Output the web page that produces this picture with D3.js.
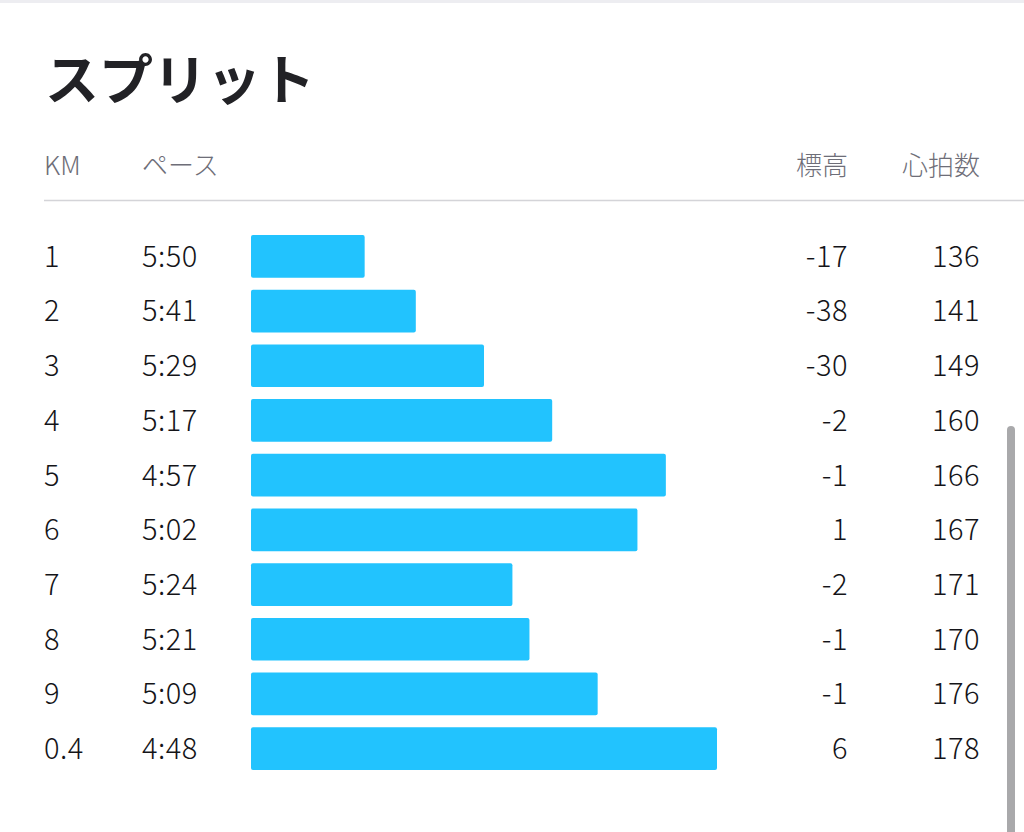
<!DOCTYPE html>
<html>
<head>
<meta charset="utf-8">
<script src="https://cdn.jsdelivr.net/npm/d3@7"></script>
<style>
	html, body { margin: 0; padding: 0; background: #fff; overflow: hidden; }
	svg { display: block; font-family: "Noto Sans CJK JP", "Noto Sans", sans-serif; }
</style>
</head>
<body>
<svg></svg>
<script>
var width = 1024;
var height = 832;

var title = 'スプリット';
var headers = ['KM', 'ペース', '標高', '心拍数'];

var km = ['1', '2', '3', '4', '5', '6', '7', '8', '9', '0.4'];
var pace = ['5:50', '5:41', '5:29', '5:17', '4:57', '5:02', '5:24', '5:21', '5:09', '4:48'];
var elevation = [-17, -38, -30, -2, -1, 1, -2, -1, -1, 6];
var heartRate = [136, 141, 149, 160, 166, 167, 171, 170, 176, 178];

function toSeconds(p) {
	var parts = p.split(':');
	return +parts[0] * 60 + +parts[1];
}

var svg = d3.select('svg')
	.attr('width', width)
	.attr('height', height);

// thin band at the very top
svg.append('rect')
	.attr('x', 0)
	.attr('y', 0)
	.attr('width', width)
	.attr('height', 3)
	.attr('fill', '#ededf1');

svg.append('text')
	.attr('x', 45)
	.attr('y', 100)
	.attr('font-size', 54)
	.attr('font-weight', 700)
	.attr('fill', '#222226')
	.text(title);

// header row
var headerX = [44, 142, 848, 980];
var headerAnchor = ['start', 'start', 'end', 'end'];
svg.selectAll('.header')
	.data(headers)
	.enter()
	.append('text')
	.attr('class', 'header')
	.attr('x', function(d, i) { return headerX[i]; })
	.attr('y', 166)
	.attr('dy', '0.35em')
	.attr('text-anchor', function(d, i) { return headerAnchor[i]; })
	.attr('font-size', 26)
	.attr('font-weight', 300)
	.attr('fill', '#6e6e78')
	.text(function(d) { return d; });

svg.append('line')
	.attr('x1', 44)
	.attr('x2', width)
	.attr('y1', 200.5)
	.attr('y2', 200.5)
	.attr('stroke', '#d4d4d8')
	.attr('stroke-width', 1.5);

var y = d3.scaleBand()
	.domain(d3.range(km.length))
	.range([229, 776])
	.paddingInner(0.22)
	.paddingOuter(0.11);

var secs = pace.map(toSeconds);
var x = d3.scaleLinear()
	.domain([370, d3.min(secs)])
	.range([251, 717]);

var rows = svg.selectAll('.row')
	.data(km)
	.enter()
	.append('g')
	.attr('class', 'row')
	.attr('transform', function(d, i) { return `translate(0,${y(i)})`; });

rows.append('rect')
	.attr('x', x.range()[0])
	.attr('y', 0)
	.attr('width', function(d, i) { return x(secs[i]) - x.range()[0]; })
	.attr('height', y.bandwidth())
	.attr('rx', 2)
	.attr('fill', '#22c3fe');

var mid = y.bandwidth() / 2;

function rowText(xPos, anchor, accessor) {
	rows.append('text')
		.attr('x', xPos)
		.attr('y', mid)
		.attr('dy', '0.36em')
		.attr('text-anchor', anchor)
		.attr('font-size', 29)
		.attr('font-weight', 300)
		.attr('letter-spacing', 0.5)
		.attr('fill', '#141418')
		.text(accessor);
}

rowText(44, 'start', function(d) { return d; });
rowText(142, 'start', function(d, i) { return pace[i]; });
rowText(848, 'end', function(d, i) { return elevation[i]; });
rowText(980, 'end', function(d, i) { return heartRate[i]; });

// scrollbar
svg.append('rect')
	.attr('x', 1007)
	.attr('y', 426)
	.attr('width', 8)
	.attr('height', 420)
	.attr('rx', 4)
	.attr('fill', '#a9a9ab');
</script>
</body>
</html>
